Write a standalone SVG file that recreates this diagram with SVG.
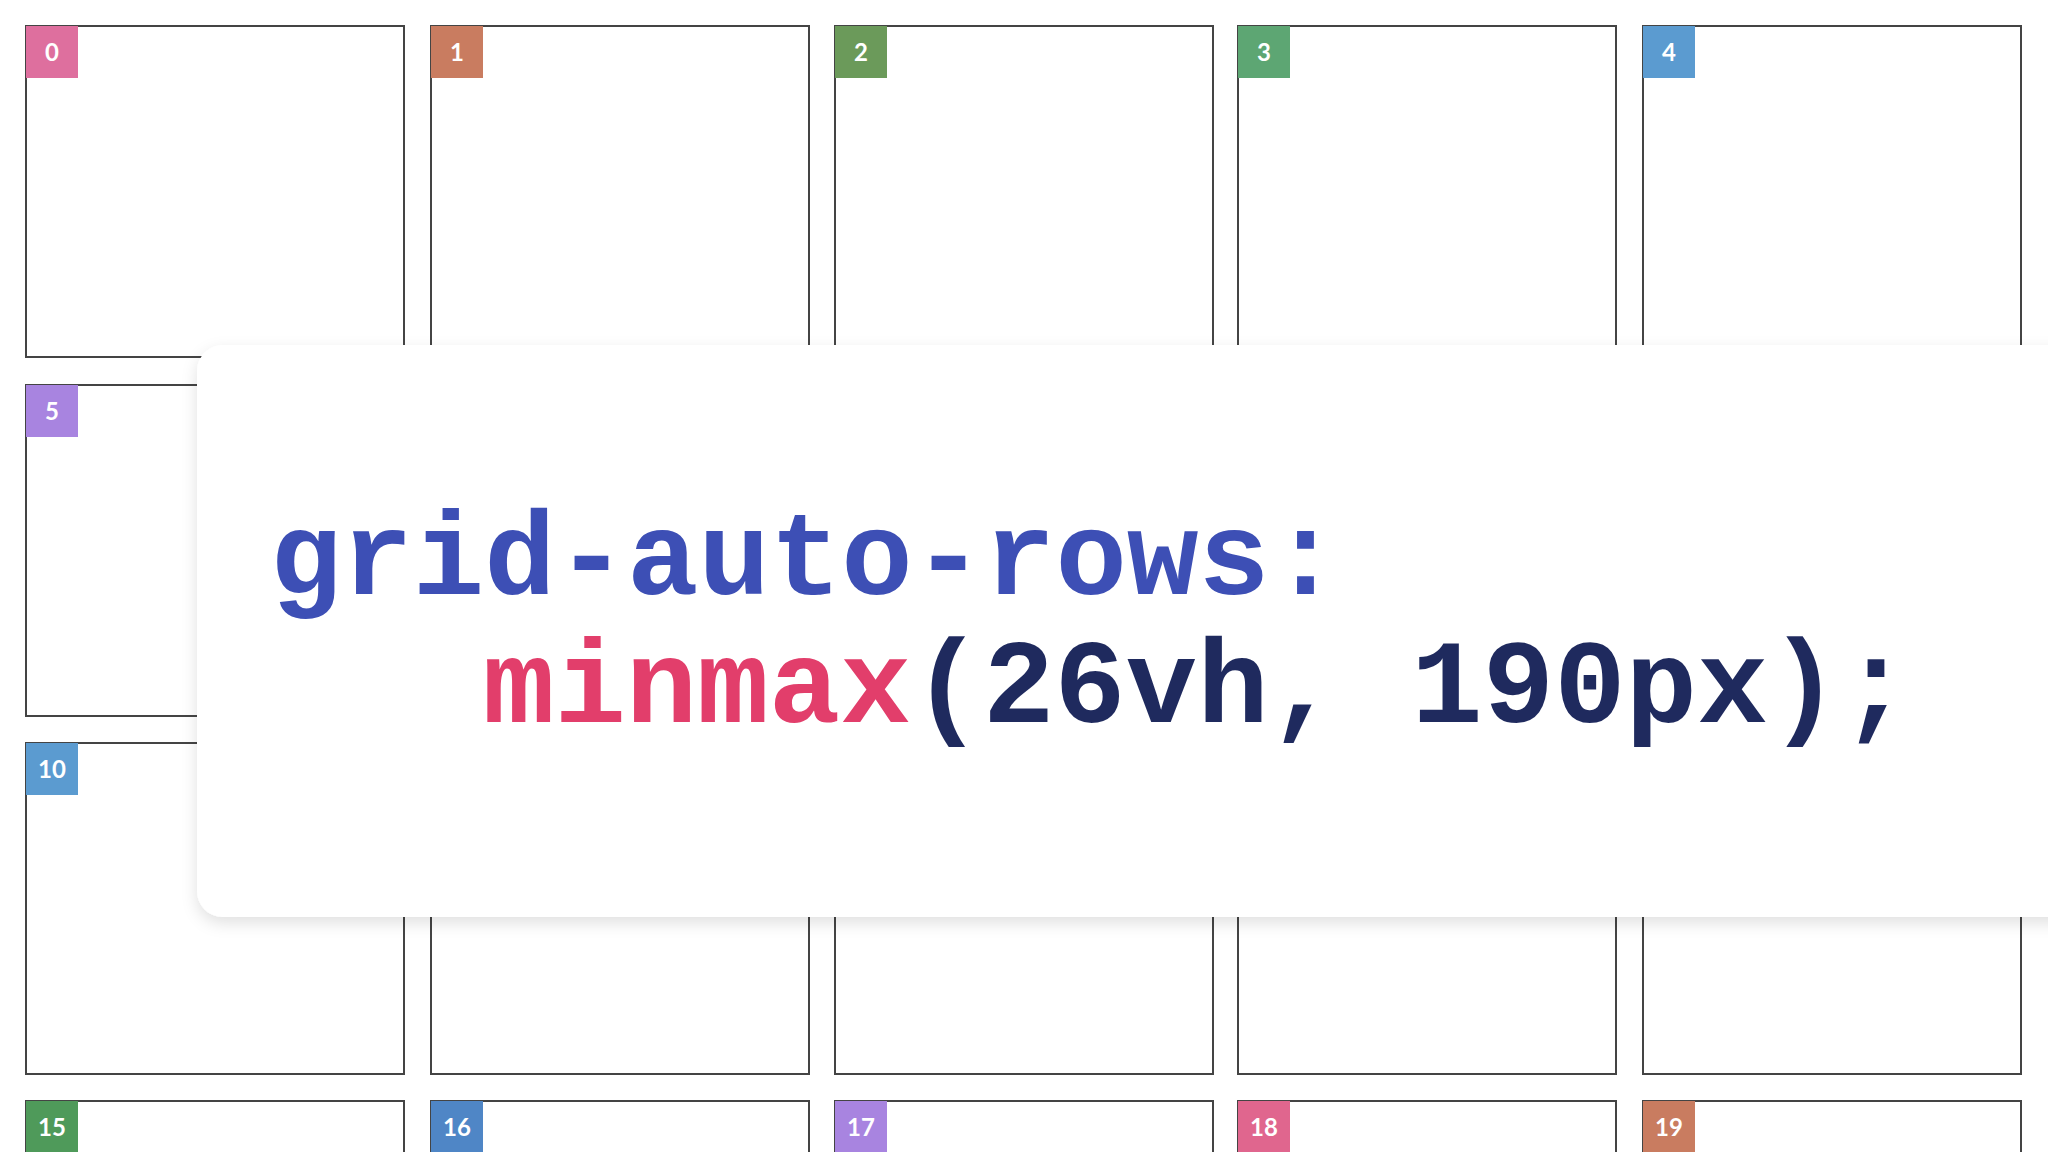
<svg xmlns="http://www.w3.org/2000/svg" width="2048" height="1152" viewBox="0 0 2048 1152">
<defs>
<style>
.box{fill:#fff;stroke:#444;stroke-width:2}
.lbl{font-family:"Lato","Liberation Sans",sans-serif;font-weight:bold;font-size:24px;fill:#fff;text-anchor:middle}
.code{font-family:"Liberation Mono","DejaVu Sans Mono",monospace;font-weight:bold;font-size:119px}
</style>
<filter id="sh" x="-10%" y="-10%" width="120%" height="130%"><feDropShadow dx="0" dy="6" stdDeviation="8" flood-color="#000" flood-opacity="0.12"/></filter>
</defs>
<rect width="2048" height="1152" fill="#fff"/>
<g id="boxes">
<g id="n0"><rect class="box" x="26" y="26" width="378" height="331"/><rect x="26" y="26" width="52" height="52" fill="#de6f9e"/><text class="lbl" x="52" y="61">0</text></g>
<g id="n1"><rect class="box" x="431" y="26" width="378" height="331"/><rect x="431" y="26" width="52" height="52" fill="#c97c60"/><text class="lbl" x="457" y="61">1</text></g>
<g id="n2"><rect class="box" x="835" y="26" width="378" height="331"/><rect x="835" y="26" width="52" height="52" fill="#6b9a5a"/><text class="lbl" x="861" y="61">2</text></g>
<g id="n3"><rect class="box" x="1238" y="26" width="378" height="331"/><rect x="1238" y="26" width="52" height="52" fill="#5da673"/><text class="lbl" x="1264" y="61">3</text></g>
<g id="n4"><rect class="box" x="1643" y="26" width="378" height="331"/><rect x="1643" y="26" width="52" height="52" fill="#5b9bd0"/><text class="lbl" x="1669" y="61">4</text></g>
<g id="n5"><rect class="box" x="26" y="385" width="378" height="331"/><rect x="26" y="385" width="52" height="52" fill="#a884e0"/><text class="lbl" x="52" y="420">5</text></g>
<g id="n10"><rect class="box" x="26" y="743" width="378" height="331"/><rect x="26" y="743" width="52" height="52" fill="#5b9bd0"/><text class="lbl" x="52" y="778">10</text></g>
<g id="n11"><rect class="box" x="431" y="743" width="378" height="331"/></g>
<g id="n12"><rect class="box" x="835" y="743" width="378" height="331"/></g>
<g id="n13"><rect class="box" x="1238" y="743" width="378" height="331"/></g>
<g id="n14"><rect class="box" x="1643" y="743" width="378" height="331"/></g>
<g id="n15"><rect class="box" x="26" y="1101" width="378" height="331"/><rect x="26" y="1101" width="52" height="52" fill="#4f9a5a"/><text class="lbl" x="52" y="1136">15</text></g>
<g id="n16"><rect class="box" x="431" y="1101" width="378" height="331"/><rect x="431" y="1101" width="52" height="52" fill="#4f86c6"/><text class="lbl" x="457" y="1136">16</text></g>
<g id="n17"><rect class="box" x="835" y="1101" width="378" height="331"/><rect x="835" y="1101" width="52" height="52" fill="#a884e0"/><text class="lbl" x="861" y="1136">17</text></g>
<g id="n18"><rect class="box" x="1238" y="1101" width="378" height="331"/><rect x="1238" y="1101" width="52" height="52" fill="#e0668e"/><text class="lbl" x="1264" y="1136">18</text></g>
<g id="n19"><rect class="box" x="1643" y="1101" width="378" height="331"/><rect x="1643" y="1101" width="52" height="52" fill="#c97c60"/><text class="lbl" x="1669" y="1136">19</text></g>
</g>
<g id="card">
<rect x="197" y="345" width="1900" height="572" rx="26" fill="#fff" filter="url(#sh)"/>
<text class="code" x="270" y="594" fill="#3d4fb5">grid-auto-rows:</text>
<text class="code" x="483" y="722"><tspan fill="#e23e6b">minmax</tspan><tspan fill="#1f2a5e">(26vh, 190px);</tspan></text>
</g>
</svg>
